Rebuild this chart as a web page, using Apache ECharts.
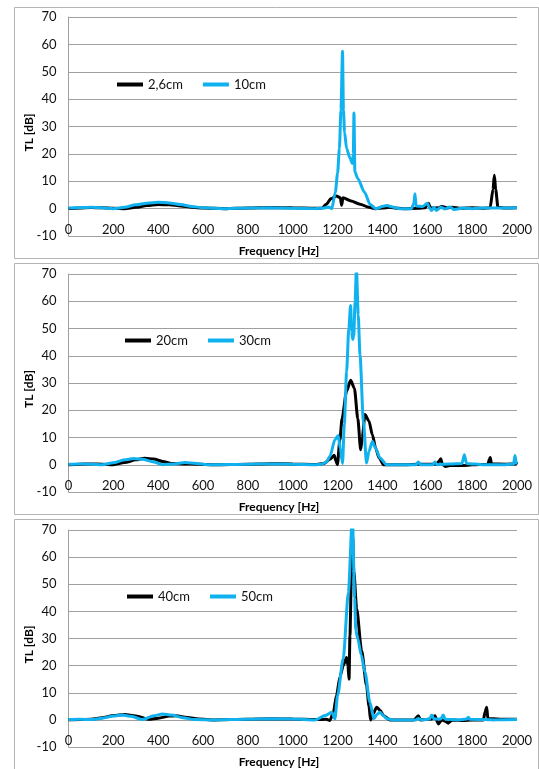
<!DOCTYPE html>
<html>
<head>
<meta charset="utf-8">
<script src="https://cdn.jsdelivr.net/npm/echarts@6/dist/echarts.min.js"></script>
<style>
  html, body { margin: 0; padding: 0; background: #fff; }
  #myChart { width: 539px; height: 769px; }
</style>
</head>
<body>
<div id="myChart"></div>
<script>
// [Hz, dB]
const tl26cm = [[0, 0], [50, 0.2], [100, 0.4], [150, 0.3], [200, 0.1], [250, 0], [300, 0.5], [350, 1.1], [400, 1.5], [450, 1.4], [500, 1.0], [550, 0.5], [600, 0.2], [700, 0], [800, 0.2], [900, 0.4], [1000, 0.3], [1100, 0.1], [1130, 0.2], [1150, 1.6], [1170, 3.6], [1195, 4.6], [1212, 4.0], [1218, 1.2], [1224, 4.0], [1260, 2.8], [1300, 1.6], [1340, 0.5], [1370, 0], [1400, 0.2], [1430, 0.5], [1470, 0.1], [1500, 0], [1560, 0.1], [1590, 0.3], [1605, 2.0], [1615, 0.2], [1650, 0.3], [1665, 0.8], [1690, 0.2], [1710, 0.5], [1750, 0.1], [1800, 0.3], [1850, 0.1], [1880, 0.3], [1893, 7], [1899, 12.2], [1905, 7], [1915, 0.5], [1950, 0.2], [2000, 0.3]]
const tl10cm = [[0, 0.2], [50, 0.4], [100, 0.5], [150, 0.3], [200, 0], [250, 0.5], [300, 1.4], [350, 2.0], [400, 2.3], [450, 2.1], [500, 1.5], [550, 0.8], [600, 0.3], [700, 0], [800, 0.2], [900, 0.3], [1000, 0.1], [1100, 0], [1140, 0.2], [1160, 0.6], [1174, 0], [1190, 6], [1200, 13], [1208, 22], [1215, 36], [1222, 57.5], [1226, 36], [1231, 28], [1240, 22], [1255, 18.5], [1266, 16.5], [1270, 20], [1273, 34.9], [1277, 13.5], [1290, 11], [1320, 6], [1345, 1.5], [1371, 0], [1400, 0.8], [1420, 1.1], [1450, 0.5], [1478, 0], [1530, 0], [1540, 2], [1545, 5.4], [1550, 1], [1580, 0.8], [1600, 2], [1610, 0.2], [1620, -0.7], [1630, 0.5], [1640, -0.7], [1660, 0.5], [1680, -0.1], [1700, 0.6], [1720, -0.3], [1760, 0.2], [1800, 0], [1850, 0.2], [1900, 0.2], [2000, 0.3]]
const tl20cm = [[0, 0], [50, 0.2], [100, 0.3], [150, 0.2], [200, 0], [250, 0.8], [300, 1.8], [340, 2.4], [380, 2.1], [420, 1.2], [460, 0.5], [520, 0.3], [580, 0.2], [650, 0], [800, 0.2], [900, 0.4], [1000, 0.3], [1100, 0.1], [1140, 0.5], [1165, 2], [1185, 3.5], [1192, 1.5], [1199, 0], [1210, 9], [1220, 17], [1240, 27], [1258, 31], [1275, 28], [1290, 17], [1303, 5.5], [1310, 10], [1322, 18.4], [1340, 16], [1355, 11], [1370, 6], [1385, 2.5], [1405, 0], [1500, 0], [1560, 0.2], [1640, 0.2], [1655, 1.5], [1660, 2.2], [1667, 0.3], [1680, -0.6], [1700, -0.3], [1760, -0.3], [1800, 0], [1870, 0.2], [1877, 2], [1881, 2.7], [1886, 0.3], [1950, 0.2], [1995, 0.3], [2000, 1]]
const tl30cm = [[0, 0.2], [50, 0.3], [100, 0.2], [150, 0], [200, 0.7], [250, 1.8], [290, 2.3], [330, 2.0], [380, 1.0], [420, 0], [470, 0.3], [520, 0.8], [570, 0.5], [620, 0], [800, 0.2], [900, 0.3], [1000, 0.2], [1100, 0], [1130, 0.2], [1150, 1], [1166, 3.1], [1188, 9.2], [1203, 10.7], [1212, 6], [1222, 0.5], [1230, 15], [1240, 34], [1250, 50], [1258, 58.4], [1263, 49], [1267, 46], [1272, 47], [1278, 60], [1284, 72], [1292, 55], [1300, 40], [1315, 16], [1329, 0.6], [1340, 5], [1355, 8.5], [1370, 6], [1389, 2.5], [1419, 0], [1550, 0], [1560, 1], [1570, 0], [1625, 0], [1634, 1], [1643, 0], [1700, 0.3], [1755, 0.5], [1765, 3.7], [1775, 0.5], [1850, 0], [1950, 0], [1985, 0.3], [1991, 3.4], [1997, 0.5], [2000, 0.3]]
const tl40cm = [[0, 0], [50, 0.1], [100, 0.2], [150, 0.8], [200, 1.6], [250, 2.0], [300, 1.4], [360, 0.2], [400, 0.6], [450, 1.4], [480, 1.5], [530, 0.9], [580, 0.3], [650, 0], [800, 0.2], [900, 0.4], [1000, 0.3], [1100, 0.1], [1150, 0.2], [1166, -0.2], [1181, 2.8], [1195, 9], [1211, 16], [1225, 20], [1240, 23], [1246, 20], [1251, 15], [1255, 31], [1262, 55], [1267, 68], [1272, 55], [1285, 41], [1307, 25.6], [1329, 12.7], [1340, 5], [1347, 0], [1360, 2.5], [1374, 4.7], [1390, 3.5], [1404, 1.6], [1433, 0], [1540, 0], [1560, 1.5], [1570, 0], [1620, 0.3], [1634, 1.5], [1649, -1.5], [1665, 0], [1680, -0.5], [1693, -1.2], [1710, 0], [1760, -0.2], [1800, 0], [1850, 0], [1858, 3], [1865, 4.7], [1870, 0.5], [1950, 0.2], [2000, 0.2]]
const tl50cm = [[0, 0.1], [50, 0.2], [100, 0.1], [150, 0.6], [200, 1.4], [240, 1.8], [280, 1.3], [330, 0.1], [380, 1.5], [420, 2.2], [460, 1.8], [510, 0.8], [560, 0.1], [650, 0], [800, 0.2], [900, 0.4], [1000, 0.3], [1100, 0], [1144, 1.6], [1174, 2.8], [1188, 0.4], [1200, 9], [1225, 22.5], [1248, 47], [1266, 75], [1276, 45], [1281, 33], [1290, 30], [1305, 24], [1322, 17.6], [1344, 6.5], [1362, 0.4], [1375, 2], [1389, 2.8], [1405, 1.5], [1419, 0.5], [1449, 0], [1550, 0], [1560, 0.5], [1575, 0], [1610, 0.3], [1620, 1.8], [1630, 0.3], [1660, 0.3], [1671, 1.8], [1680, 0.2], [1740, 0], [1775, 0.3], [1783, 1.0], [1790, 0.2], [1900, 0], [2000, 0.1]]

const panelNames = [['2,6cm', '10cm'], ['20cm', '30cm'], ['40cm', '50cm']]
const panelData = [[tl26cm, tl10cm], [tl20cm, tl30cm], [tl40cm, tl50cm]]
const xLabel = 'Frequency [Hz]'
const yLabel = 'TL [dB]'

const font = 'Lato, "Liberation Sans", sans-serif'
const colors = ['#000000', '#0fb2ee']
// plot area top / height, legend left, panel box top / height
const gridTops = [17, 274, 530]
const gridHeights = [219, 218, 217]
const legendLefts = [117, 125, 127]
const boxTops = [7.5, 263.5, 519.5]
const boxHeights = [251, 251, 260]

const myChart = echarts.init(document.getElementById('myChart'))

const grid = []
const xAxis = []
const yAxis = []
const series = []
const legend = []
const graphic = []

for (let i = 0; i < 3; i++) {
  graphic.push({
    type: 'rect',
    shape: { x: 14.5, y: boxTops[i], width: 524, height: boxHeights[i] },
    style: { fill: 'none', stroke: '#b4b4b4', lineWidth: 1 },
    z: -1
  })
  graphic.push({
    type: 'text',
    x: 29,
    y: gridTops[i] + gridHeights[i] / 2 + 6,
    rotation: Math.PI / 2,
    style: {
      text: yLabel,
      font: 'bold 12px ' + font,
      fill: '#000',
      textAlign: 'center',
      textVerticalAlign: 'middle'
    }
  })
  graphic.push({
    type: 'text',
    x: 279,
    y: gridTops[i] + gridHeights[i] + 15,
    style: {
      text: xLabel,
      font: 'bold 12px ' + font,
      fill: '#000',
      textAlign: 'center',
      textVerticalAlign: 'middle'
    }
  })

  grid.push({
    left: 68.5,
    right: 22,
    top: gridTops[i],
    height: gridHeights[i]
  })
  xAxis.push({
    type: 'value',
    gridIndex: i,
    min: 0,
    max: 2000,
    interval: 200,
    axisLine: { show: false },
    axisTick: { show: false },
    splitLine: { show: false },
    axisLabel: {
      margin: -13,
      color: '#111',
      fontFamily: font,
      fontSize: 13,
      formatter: function (v) { return String(v) }
    }
  })
  yAxis.push({
    type: 'value',
    gridIndex: i,
    min: -10,
    max: 70,
    interval: 10,
    axisLine: { show: true, lineStyle: { color: '#a0a0a0', width: 1 } },
    axisTick: { show: false },
    splitLine: { show: true, lineStyle: { color: '#a0a0a0', width: 1 } },
    axisLabel: {
      margin: 12,
      color: '#111',
      fontFamily: font,
      fontSize: 13
    }
  })
  legend.push({
    data: panelNames[i],
    left: legendLefts[i],
    top: [78, 334, 590][i],
    padding: 0,
    itemGap: 20,
    itemWidth: 26,
    itemHeight: 4,
    icon: 'rect',
    textStyle: { color: '#111', fontFamily: font, fontSize: 13 }
  })
  for (let j = 0; j < 2; j++) {
    series.push({
      name: panelNames[i][j],
      type: 'line',
      xAxisIndex: i,
      yAxisIndex: i,
      data: panelData[i][j],
      showSymbol: false,
      smooth: 0.25,
      smoothMonotone: 'x',
      clip: true,
      color: colors[j],
      lineStyle: { color: colors[j], width: 3 }
    })
  }
}

const option = {
  animation: false,
  backgroundColor: '#fff',
  grid: grid,
  xAxis: xAxis,
  yAxis: yAxis,
  legend: legend,
  graphic: graphic,
  series: series
}
myChart.setOption(option)
</script>
</body>
</html>
